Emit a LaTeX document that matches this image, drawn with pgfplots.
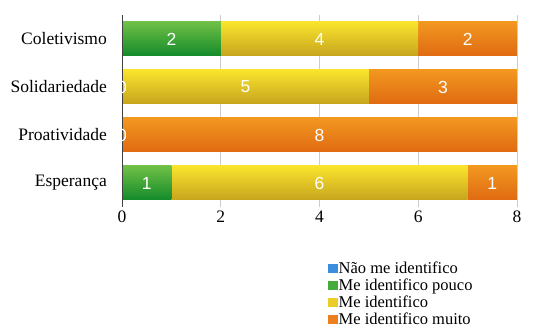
\documentclass[border=0pt]{standalone}
\usepackage{fontspec}
\setmainfont{Liberation Serif}
\newfontfamily\barfont{Liberation Sans}
\usepackage{pgfplots}
\pgfplotsset{compat=1.18}
\definecolor{cBlue}{RGB}{60,141,220}
\definecolor{cGreen}{RGB}{70,170,60}
\definecolor{cYellow}{RGB}{236,205,40}
\definecolor{cOrange}{RGB}{236,128,28}
\definecolor{gTop}{RGB}{112,192,70}
\definecolor{gBot}{RGB}{18,138,42}
\definecolor{yTop}{RGB}{250,228,45}
\definecolor{yBot}{RGB}{198,164,30}
\definecolor{oTop}{RGB}{242,152,32}
\definecolor{oBot}{RGB}{224,106,18}
\pgfplotsset{
  geom/.style={at={(122pt,125pt)}, anchor=south west,
    scale only axis, width=395pt, height=192pt,
    xmin=0, xmax=8, ymin=-0.5, ymax=3.5},
  rowaxis/.style={geom, hide axis, xbar stacked, bar width=34pt},
  gbar/.style={draw=none, top color=gTop, bottom color=gBot},
  ybarst/.style={draw=none, top color=yTop, bottom color=yBot},
  obar/.style={draw=none, top color=oTop, bottom color=oBot},
}
\begin{document}
\begin{tikzpicture}
\path[use as bounding box] (0,0) rectangle (536pt,332pt);
% grid, tick labels, legend
\begin{axis}[
  geom,
  xtick={0,2,4,6,8},
  ytick={0,1,2,3},
  yticklabels={Esperança,Proatividade,Solidariedade,Coletivismo},
  axis lines*=left,
  axis line style={draw=none},
  major tick length=0pt,
  xmajorgrids, grid style={draw=black!20, line width=0.9pt},
  /pgf/number format/assume math mode=true,
  xticklabel style={font=\fontsize{17.5}{20}\selectfont, inner sep=0pt, yshift=-4pt},
  yticklabel style={font=\fontsize{17.5}{20}\selectfont, inner sep=0pt, xshift=-15pt},
  legend style={draw=none, fill=none, at={(0.514,-0.27)}, anchor=north west,
    font=\fontsize{16.5}{16.5}\selectfont, row sep=3pt,
    nodes={inner sep=0.5pt}},
  legend cell align=left,
  legend image code/.code={\fill[#1, draw=none] (0pt,-4.5pt) rectangle (10pt,4.5pt);},
]
\addlegendimage{fill=cBlue, draw=none}
\addlegendimage{fill=cGreen, draw=none}
\addlegendimage{fill=cYellow, draw=none}
\addlegendimage{fill=cOrange, draw=none}
\legend{Não me identifico, Me identifico pouco, Me identifico, Me identifico muito}
\end{axis}
% Coletivismo
\begin{axis}[rowaxis]
\addplot[gbar] coordinates {(2,3)};
\addplot[ybarst] coordinates {(4,3)};
\addplot[obar] coordinates {(2,3)};
\end{axis}
% Solidariedade
\begin{axis}[rowaxis]
\addplot[ybarst] coordinates {(5,2)};
\addplot[obar] coordinates {(3,2)};
\end{axis}
% Proatividade
\begin{axis}[rowaxis]
\addplot[obar] coordinates {(8,1)};
\end{axis}
% Esperança
\begin{axis}[rowaxis]
\addplot[gbar] coordinates {(1,0)};
\addplot[ybarst] coordinates {(6,0)};
\addplot[obar] coordinates {(1,0)};
\end{axis}
% value labels and left axis line
\begin{axis}[
  geom, clip=false,
  axis lines*=left,
  axis line style={-},
  x axis line style={draw=none},
  y axis line style={draw=black!75, line width=0.9pt},
  xtick=\empty, ytick=\empty,
]
\addplot[draw=none, mark=none, nodes near coords, point meta=explicit symbolic,
  every node near coord/.style={anchor=center, text=white, font=\barfont\fontsize{17.5}{20}\selectfont}]
  coordinates {
  (1,3) [2] (4,3) [4] (7,3) [2]
  (0,2) [0] (2.5,2) [5] (6.5,2) [3]
  (0,1) [0] (4,1) [8]
  (0.5,0) [1] (4,0) [6] (7.5,0) [1]
  };
\end{axis}
\end{tikzpicture}
\end{document}
